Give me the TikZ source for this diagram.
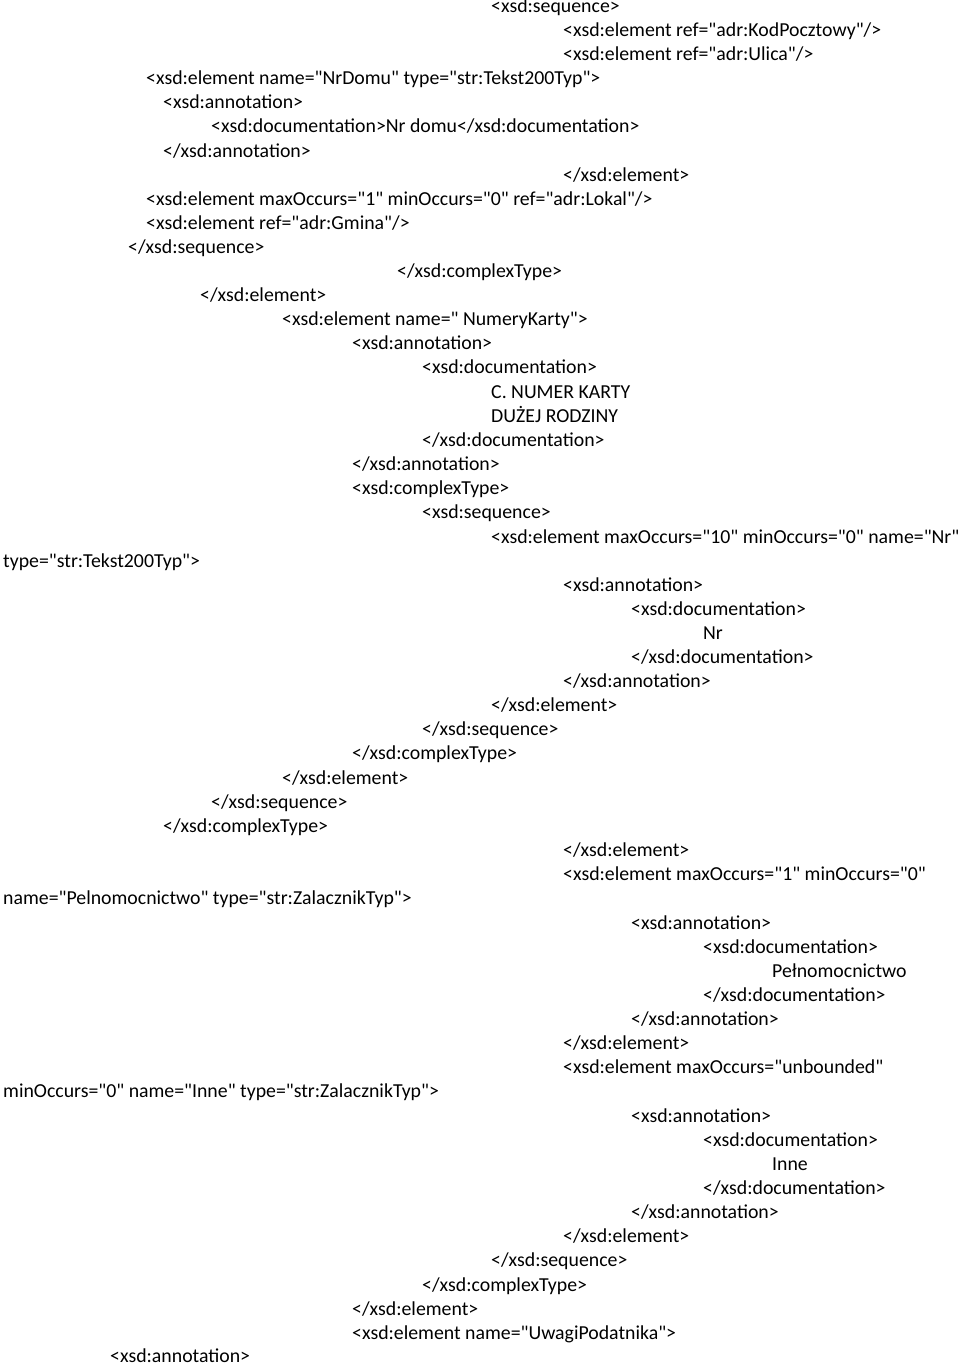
\documentclass[tikz,border=0pt]{standalone}
\usepackage{fontspec}
\setmainfont{Carlito}
\newcommand{\Q}{\textquotedbl{}}
\begin{document}
\begin{tikzpicture}[x=1pt,y=-1pt,
  ln/.style={anchor=west,inner sep=0pt,text height=13pt,text depth=4pt,font=\fontsize{19.8}{22}\selectfont}]
\useasboundingbox (0,0) rectangle (960,1366);
\node[ln] (l1) at (491,8) {<xsd:sequence>};
\node[ln] (l2) at (563,32) {<xsd:element ref=\Q adr:KodPocztowy\Q/>};
\node[ln] (l3) at (563,56) {<xsd:element ref=\Q adr:Ulica\Q/>};
\node[ln] (l4) at (146,80) {<xsd:element name=\Q NrDomu\Q\ type=\Q str:Tekst200Typ\Q>};
\node[ln] (l5) at (163,104) {<xsd:annotation>};
\node[ln] (l6) at (211,128) {<xsd:documentation>Nr domu</xsd:documentation>};
\node[ln] (l7) at (163,153) {</xsd:annotation>};
\node[ln] (l8) at (563,177) {</xsd:element>};
\node[ln] (l9) at (146,201) {<xsd:element maxOccurs=\Q 1\Q\ minOccurs=\Q 0\Q\ ref=\Q adr:Lokal\Q/>};
\node[ln] (l10) at (146,225) {<xsd:element ref=\Q adr:Gmina\Q/>};
\node[ln] (l11) at (128,249) {</xsd:sequence>};
\node[ln] (l12) at (397,273) {</xsd:complexType>};
\node[ln] (l13) at (200,297) {</xsd:element>};
\node[ln] (l14) at (282,321) {<xsd:element name=\Q\ NumeryKarty\Q>};
\node[ln] (l15) at (352,345) {<xsd:annotation>};
\node[ln] (l16) at (422,369) {<xsd:documentation>};
\node[ln] (l17) at (491,394) {C. NUMER KARTY};
\node[ln] (l18) at (491,418) {DUŻEJ RODZINY};
\node[ln] (l19) at (422,442) {</xsd:documentation>};
\node[ln] (l20) at (352,466) {</xsd:annotation>};
\node[ln] (l21) at (352,490) {<xsd:complexType>};
\node[ln] (l22) at (422,514) {<xsd:sequence>};
\node[ln] (l23) at (491,539) {<xsd:element maxOccurs=\Q 10\Q\ minOccurs=\Q 0\Q\ name=\Q Nr\Q};
\node[ln] (l24) at (3,563) {type=\Q str:Tekst200Typ\Q>};
\node[ln] (l25) at (563,587) {<xsd:annotation>};
\node[ln] (l26) at (631,611) {<xsd:documentation>};
\node[ln] (l27) at (703,635) {Nr};
\node[ln] (l28) at (631,659) {</xsd:documentation>};
\node[ln] (l29) at (563,683) {</xsd:annotation>};
\node[ln] (l30) at (491,707) {</xsd:element>};
\node[ln] (l31) at (422,731) {</xsd:sequence>};
\node[ln] (l32) at (352,755) {</xsd:complexType>};
\node[ln] (l33) at (282,780) {</xsd:element>};
\node[ln] (l34) at (211,804) {</xsd:sequence>};
\node[ln] (l35) at (163,828) {</xsd:complexType>};
\node[ln] (l36) at (563,852) {</xsd:element>};
\node[ln] (l37) at (563,876) {<xsd:element maxOccurs=\Q 1\Q\ minOccurs=\Q 0\Q};
\node[ln] (l38) at (3,900) {name=\Q Pelnomocnictwo\Q\ type=\Q str:ZalacznikTyp\Q>};
\node[ln] (l39) at (631,925) {<xsd:annotation>};
\node[ln] (l40) at (703,949) {<xsd:documentation>};
\node[ln] (l41) at (772,973) {Pełnomocnictwo};
\node[ln] (l42) at (703,997) {</xsd:documentation>};
\node[ln] (l43) at (631,1021) {</xsd:annotation>};
\node[ln] (l44) at (563,1045) {</xsd:element>};
\node[ln] (l45) at (563,1069) {<xsd:element maxOccurs=\Q unbounded\Q};
\node[ln] (l46) at (3,1093) {minOccurs=\Q 0\Q\ name=\Q Inne\Q\ type=\Q str:ZalacznikTyp\Q>};
\node[ln] (l47) at (631,1118) {<xsd:annotation>};
\node[ln] (l48) at (703,1142) {<xsd:documentation>};
\node[ln] (l49) at (772,1166) {Inne};
\node[ln] (l50) at (703,1190) {</xsd:documentation>};
\node[ln] (l51) at (631,1214) {</xsd:annotation>};
\node[ln] (l52) at (563,1238) {</xsd:element>};
\node[ln] (l53) at (491,1262) {</xsd:sequence>};
\node[ln] (l54) at (422,1287) {</xsd:complexType>};
\node[ln] (l55) at (352,1311) {</xsd:element>};
\node[ln] (l56) at (352,1335) {<xsd:element name=\Q UwagiPodatnika\Q>};
\node[ln] (l57) at (110,1358) {<xsd:annotation>};
\end{tikzpicture}
\end{document}
